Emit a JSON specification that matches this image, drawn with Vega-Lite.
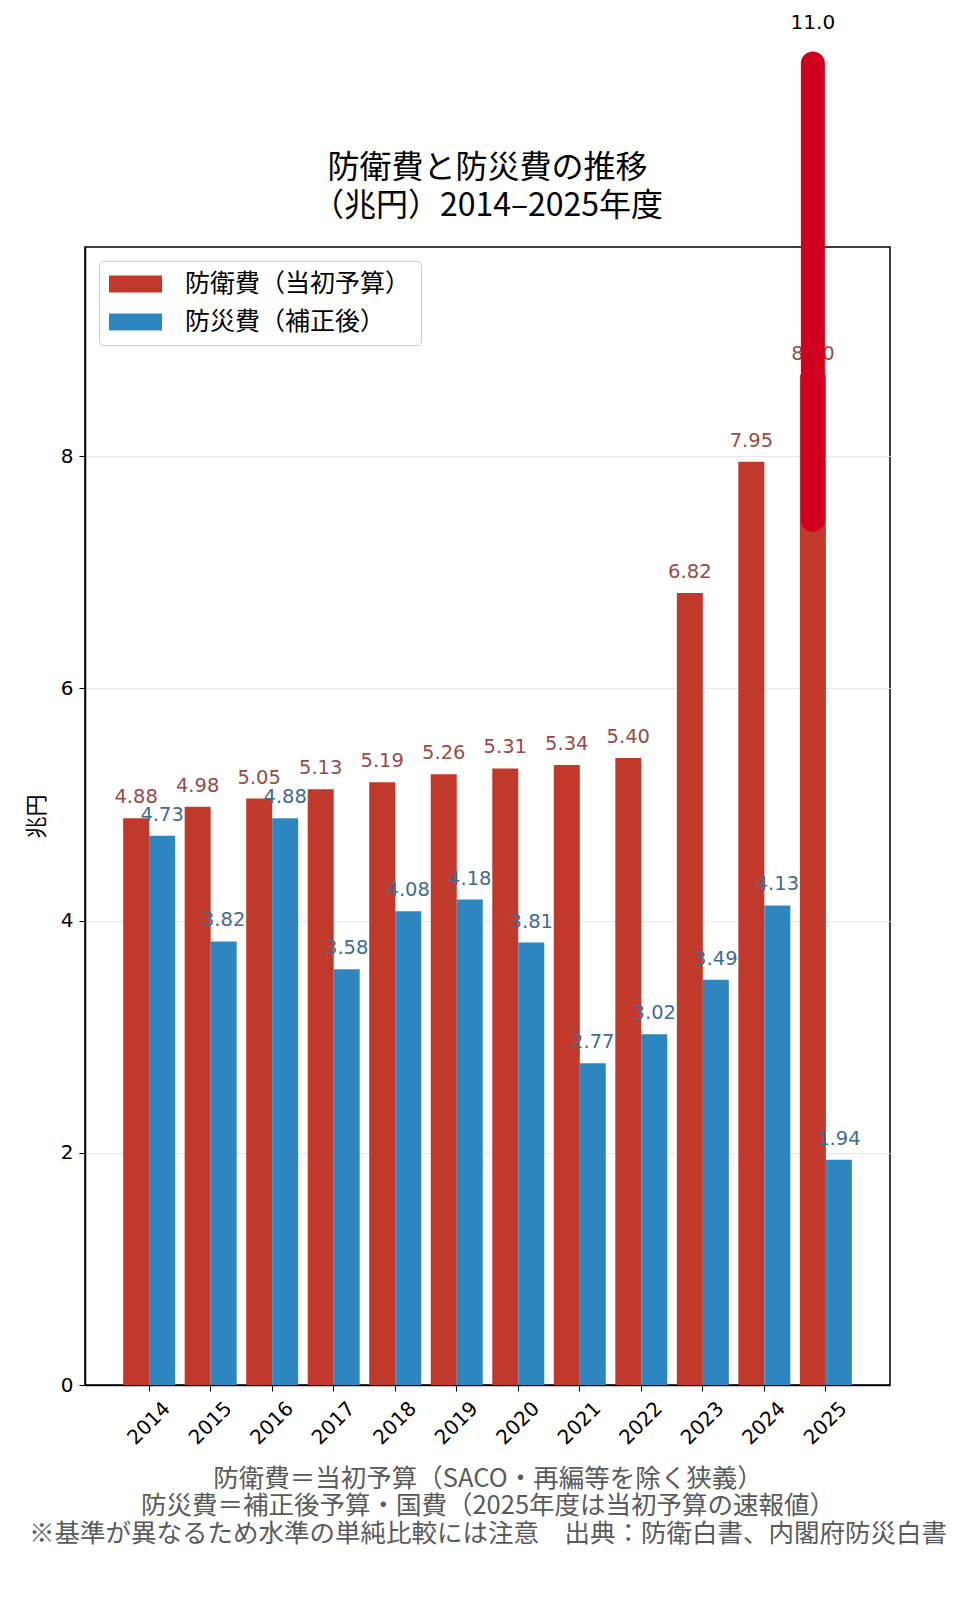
{
  "$schema": "https://vega.github.io/schema/vega-lite/v6.json",
  "width": 805,
  "height": 1138,
  "autosize": {"type": "none"},
  "padding": {"left": 85, "top": 247, "right": 90, "bottom": 222},
  "background": "white",
  "config": {
    "font": "Noto Sans CJK JP",
    "view": {"stroke": "black", "strokeWidth": 1.5},
    "axis": {"domainColor": "black", "tickColor": "black", "labelColor": "black", "labelFont": "DejaVu Sans", "labelFontSize": 20, "titleFontWeight": "normal"},
    "legend": {"labelFontSize": 25, "labelColor": "black", "labelLimit": 500}
  },
  "title": {
    "text": ["防衛費と防災費の推移", "（兆円）2014–2025年度"],
    "fontSize": 32,
    "fontWeight": "normal",
    "color": "black",
    "lineHeight": 38,
    "anchor": "middle",
    "offset": 26,
    "dy": 236
  },
  "datasets": {
    "budget": [
      {"year": "2014", "type": "防衛費（当初予算）", "value": 4.88},
      {"year": "2015", "type": "防衛費（当初予算）", "value": 4.98},
      {"year": "2016", "type": "防衛費（当初予算）", "value": 5.05},
      {"year": "2017", "type": "防衛費（当初予算）", "value": 5.13},
      {"year": "2018", "type": "防衛費（当初予算）", "value": 5.19},
      {"year": "2019", "type": "防衛費（当初予算）", "value": 5.26},
      {"year": "2020", "type": "防衛費（当初予算）", "value": 5.31},
      {"year": "2021", "type": "防衛費（当初予算）", "value": 5.34},
      {"year": "2022", "type": "防衛費（当初予算）", "value": 5.40},
      {"year": "2023", "type": "防衛費（当初予算）", "value": 6.82},
      {"year": "2024", "type": "防衛費（当初予算）", "value": 7.95},
      {"year": "2025", "type": "防衛費（当初予算）", "value": 8.70},
      {"year": "2014", "type": "防災費（補正後）", "value": 4.73},
      {"year": "2015", "type": "防災費（補正後）", "value": 3.82},
      {"year": "2016", "type": "防災費（補正後）", "value": 4.88},
      {"year": "2017", "type": "防災費（補正後）", "value": 3.58},
      {"year": "2018", "type": "防災費（補正後）", "value": 4.08},
      {"year": "2019", "type": "防災費（補正後）", "value": 4.18},
      {"year": "2020", "type": "防災費（補正後）", "value": 3.81},
      {"year": "2021", "type": "防災費（補正後）", "value": 2.77},
      {"year": "2022", "type": "防災費（補正後）", "value": 3.02},
      {"year": "2023", "type": "防災費（補正後）", "value": 3.49},
      {"year": "2024", "type": "防災費（補正後）", "value": 4.13},
      {"year": "2025", "type": "防災費（補正後）", "value": 1.94}
    ],
    "note": [
      {"year": "2025", "type": "防衛費（当初予算）", "low": 7.45, "high": 11.38, "labelAt": 11.73, "label": "11.0"}
    ]
  },
  "encoding": {
    "x": {
      "field": "year",
      "type": "nominal",
      "scale": {"paddingInner": 0.155, "paddingOuter": 0.62},
      "axis": {
        "labelAngle": -45,
        "labelAlign": "center",
        "labelBaseline": "middle",
        "labelPadding": 32,
        "tickSize": 6,
        "domainWidth": 1.5,
        "title": ["防衛費＝当初予算（SACO・再編等を除く狭義）", "防災費＝補正後予算・国費（2025年度は当初予算の速報値）", "※基準が異なるため水準の単純比較には注意　出典：防衛白書、内閣府防災白書"],
        "titleFontSize": 25.5,
        "titleColor": "#5a5a5a",
        "titleLineHeight": 27.5,
        "titlePadding": 18
      }
    },
    "xOffset": {
      "field": "type",
      "type": "nominal",
      "sort": ["防衛費（当初予算）", "防災費（補正後）"],
      "scale": {"paddingInner": 0, "paddingOuter": 0}
    }
  },
  "layer": [
    {
      "data": {"name": "budget"},
      "mark": {"type": "bar"},
      "encoding": {
        "y": {
          "field": "value",
          "type": "quantitative",
          "scale": {"domain": [0, 9.8], "nice": false},
          "axis": {
            "values": [0, 2, 4, 6, 8],
            "format": "d",
            "grid": true,
            "gridColor": "#e8e8e8",
            "tickSize": 6,
            "labelPadding": 6,
            "domainWidth": 1.5,
            "title": "兆円",
            "titleFontSize": 22,
            "titleColor": "black",
            "titlePadding": 12
          }
        },
        "color": {
          "field": "type",
          "type": "nominal",
          "scale": {"domain": ["防衛費（当初予算）", "防災費（補正後）"], "range": ["#c0392b", "#2e86c1"]},
          "legend": {
            "title": null,
            "orient": "top-left",
            "offset": 14,
            "padding": 10,
            "fillColor": "white",
            "strokeColor": "#cccccc",
            "cornerRadius": 4,
            "symbolType": "M-1,-0.65H3.08V0.65H-1Z",
            "symbolSize": 676,
            "symbolStrokeWidth": 0,
            "symbolOpacity": 1,
            "labelOffset": 50,
            "rowPadding": 12
          }
        }
      }
    },
    {
      "data": {"name": "budget"},
      "mark": {"type": "text", "baseline": "middle", "dy": -21, "fontSize": 19.5, "font": "DejaVu Sans"},
      "encoding": {
        "y": {"field": "value", "type": "quantitative"},
        "text": {"field": "value", "type": "quantitative", "format": ".2f"},
        "color": {
          "condition": {"test": "datum.type === '防衛費（当初予算）'", "value": "#9a4a45"},
          "value": "#3d6d90"
        }
      }
    },
    {
      "data": {"name": "note"},
      "mark": {"type": "rule", "color": "#d2001f", "strokeWidth": 24, "strokeCap": "round", "clip": false},
      "encoding": {
        "y": {"field": "low", "type": "quantitative"},
        "y2": {"field": "high"}
      }
    },
    {
      "data": {"name": "note"},
      "mark": {"type": "text", "fontSize": 20, "color": "black", "baseline": "middle", "font": "DejaVu Sans"},
      "encoding": {
        "y": {"field": "labelAt", "type": "quantitative"},
        "text": {"field": "label"}
      }
    }
  ]
}
